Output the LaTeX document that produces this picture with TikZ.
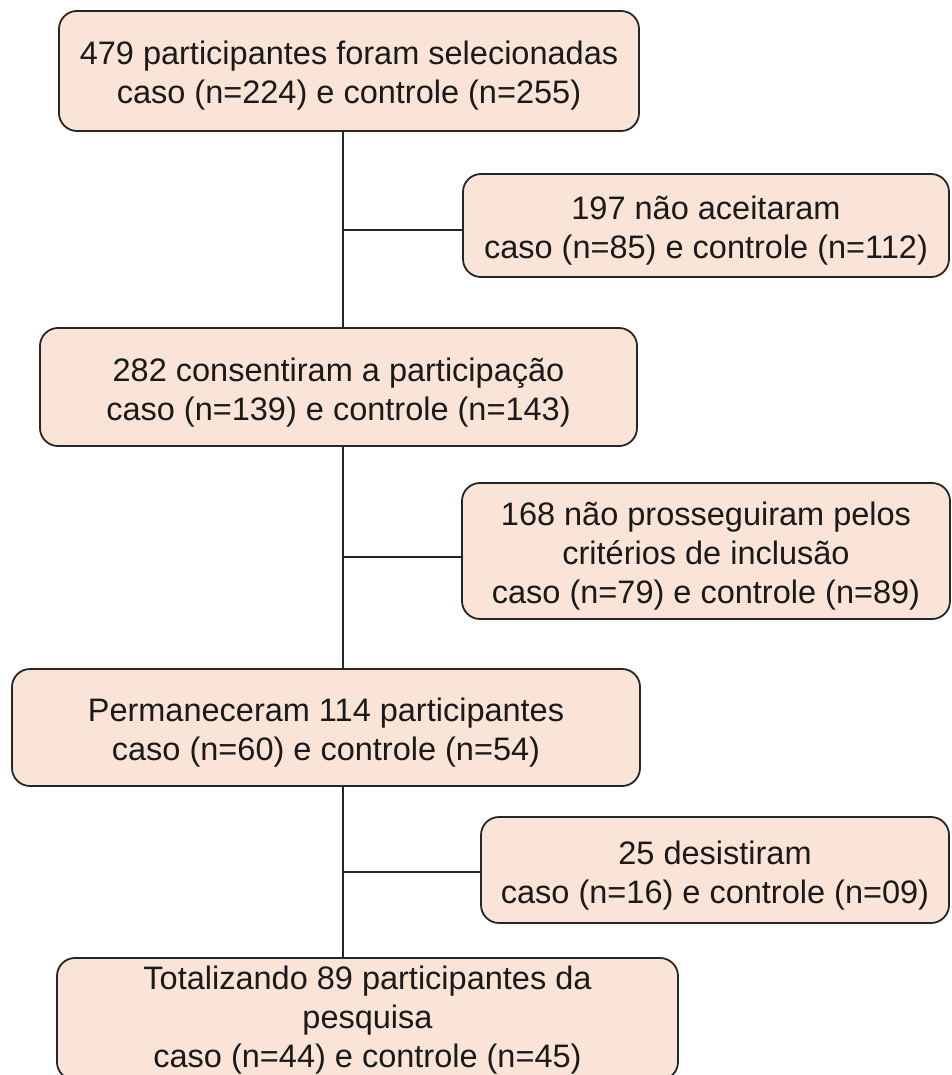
\documentclass[tikz,border=0pt]{standalone}
\usepackage{fontspec}
\setmainfont{Liberation Sans}
\definecolor{boxfill}{HTML}{FAE4D7}
\definecolor{boxline}{HTML}{262626}
\definecolor{boxtext}{HTML}{1A1A1A}
\newcommand\fTop{\rule{0pt}{35pt}}
\newcommand\fTopLow{\rule{0pt}{26pt}}
\newcommand\fBot{\rule[-8pt]{0pt}{8pt}}
\begin{document}
\begin{tikzpicture}[x=1pt,y=-1pt,
  flowbox/.style={draw=boxline, line width=1.8pt, fill=boxfill, rounded corners=18pt,
    align=center, inner sep=0pt, text=boxtext, font=\fontsize{32.5}{39}\selectfont},
  link/.style={draw=boxline, line width=1.8pt}]
\useasboundingbox (0,0) rectangle (951,1075);
\clip (0,0) rectangle (951,1075);
\node[flowbox, minimum width=580pt, minimum height=120pt] (b1) at (349,71)
  {\fTop 479 participantes foram selecionadas\\caso (n=224) e controle (n=255)\fBot};
\node[flowbox, minimum width=486pt, minimum height=103pt] (r1) at (706,225.5)
  {\fTop 197 não aceitaram\\caso (n=85) e controle (n=112)\fBot};
\node[flowbox, minimum width=597pt, minimum height=118pt] (b2) at (338.5,387)
  {\fTop 282 consentiram a participação\\caso (n=139) e controle (n=143)\fBot};
\node[flowbox, minimum width=488pt, minimum height=136pt] (r2) at (706,551)
  {\fTop 168 não prosseguiram pelos\\critérios de inclusão\\caso (n=79) e controle (n=89)\fBot};
\node[flowbox, minimum width=628pt, minimum height=117pt] (b3) at (326,727.5)
  {\fTop Permaneceram 114 participantes\\caso (n=60) e controle (n=54)\fBot};
\node[flowbox, minimum width=468pt, minimum height=106pt] (r3) at (715,870)
  {\fTop 25 desistiram\\caso (n=16) e controle (n=09)\fBot};
\node[flowbox, minimum width=621pt, minimum height=122pt] (b4) at (367.5,1019)
  {\fTopLow Totalizando 89 participantes da\\pesquisa\\caso (n=44) e controle (n=45)\fBot};
\coordinate (t1) at (343,230);
\coordinate (t2) at (343,557);
\coordinate (t3) at (343,872);
\draw[link] (b1.south -| t1) -- (b2.north -| t1);
\draw[link] (b2.south -| t2) -- (b3.north -| t2);
\draw[link] (b3.south -| t3) -- (b4.north -| t3);
\draw[link] (t1) -- (r1.west |- t1);
\draw[link] (t2) -- (r2.west |- t2);
\draw[link] (t3) -- (r3.west |- t3);
\end{tikzpicture}
\end{document}
